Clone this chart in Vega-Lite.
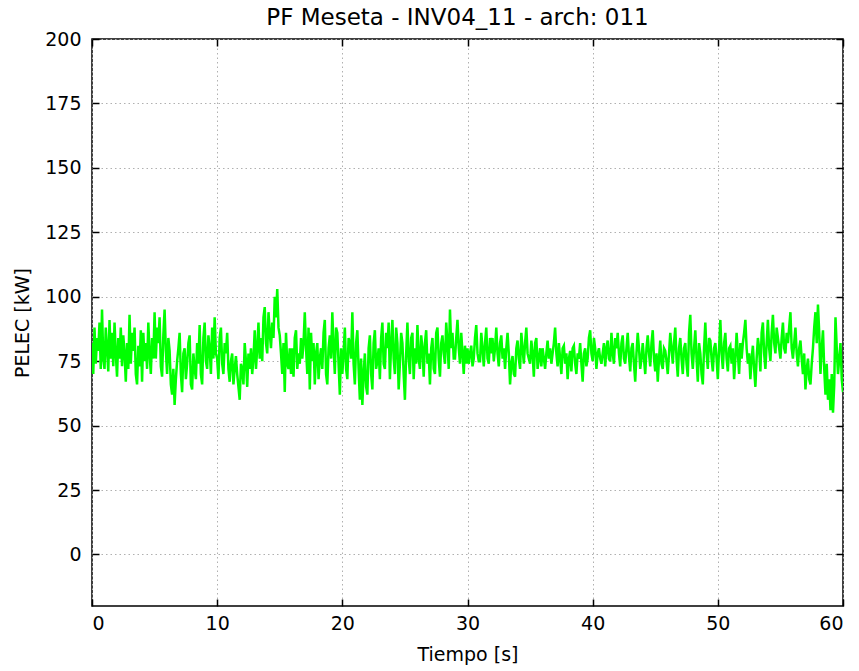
{
 "$schema": "https://vega.github.io/schema/vega-lite/v6.json",
 "width": 751, "height": 567,
 "autosize": {"type": "none"},
 "padding": {"left": 92, "top": 39, "right": 16, "bottom": 65},
 "title": {"text": "PF Meseta - INV04_11 - arch: 011", "font": "DejaVu Sans", "fontSize": 23, "fontWeight": "normal", "color": "#000000", "offset": 0, "dx": -10},
 "config": {
  "view": {"stroke": "#000000", "strokeWidth": 1.5},
  "axis": {"domain": false, "tickColor": "#000000", "tickWidth": 1.5, "tickSize": -7, "labelFont": "DejaVu Sans", "labelFontSize": 19, "labelColor": "#000000", "titleFont": "DejaVu Sans", "titleFontSize": 19, "titleFontWeight": "normal", "titleColor": "#000000", "gridColor": "#b0b0b0", "gridDash": [1.5, 3], "gridWidth": 1}
 },
 "data": {"values": [
{"t":0.0,"p":82},{"t":0.1,"p":70},{"t":0.2,"p":88},{"t":0.3,"p":74},{"t":0.4,"p":84},{"t":0.5,"p":79},{"t":0.6,"p":90},{"t":0.7,"p":72},{"t":0.8,"p":95},{"t":0.9,"p":76},
{"t":1.0,"p":72},{"t":1.1,"p":88},{"t":1.2,"p":80},{"t":1.3,"p":71},{"t":1.4,"p":91},{"t":1.5,"p":76},{"t":1.6,"p":86},{"t":1.7,"p":73},{"t":1.8,"p":90},{"t":1.9,"p":78},
{"t":2.0,"p":69},{"t":2.1,"p":84},{"t":2.2,"p":76},{"t":2.3,"p":88},{"t":2.4,"p":73},{"t":2.5,"p":85},{"t":2.6,"p":78},{"t":2.7,"p":67},{"t":2.8,"p":82},{"t":2.9,"p":72},
{"t":3.0,"p":93},{"t":3.1,"p":74},{"t":3.2,"p":86},{"t":3.3,"p":79},{"t":3.4,"p":88},{"t":3.5,"p":70},{"t":3.6,"p":66},{"t":3.7,"p":81},{"t":3.8,"p":73},{"t":3.9,"p":87},
{"t":4.0,"p":67},{"t":4.1,"p":86},{"t":4.2,"p":75},{"t":4.3,"p":82},{"t":4.4,"p":72},{"t":4.5,"p":90},{"t":4.6,"p":78},{"t":4.7,"p":70},{"t":4.8,"p":84},{"t":4.9,"p":76},
{"t":5.0,"p":94},{"t":5.1,"p":76},{"t":5.2,"p":88},{"t":5.3,"p":82},{"t":5.4,"p":92},{"t":5.5,"p":73},{"t":5.6,"p":69},{"t":5.7,"p":85},{"t":5.8,"p":95},{"t":5.9,"p":79},
{"t":6.0,"p":70},{"t":6.1,"p":84},{"t":6.2,"p":79},{"t":6.3,"p":66},{"t":6.4,"p":62},{"t":6.5,"p":72},{"t":6.6,"p":58},{"t":6.7,"p":68},{"t":6.8,"p":75},{"t":6.9,"p":80},
{"t":7.0,"p":86},{"t":7.1,"p":70},{"t":7.2,"p":63},{"t":7.3,"p":78},{"t":7.4,"p":80},{"t":7.5,"p":68},{"t":7.6,"p":74},{"t":7.7,"p":82},{"t":7.8,"p":85},{"t":7.9,"p":66},
{"t":8.0,"p":64},{"t":8.1,"p":78},{"t":8.2,"p":72},{"t":8.3,"p":68},{"t":8.4,"p":82},{"t":8.5,"p":74},{"t":8.6,"p":89},{"t":8.7,"p":70},{"t":8.8,"p":66},{"t":8.9,"p":84},
{"t":9.0,"p":90},{"t":9.1,"p":75},{"t":9.2,"p":72},{"t":9.3,"p":85},{"t":9.4,"p":80},{"t":9.5,"p":70},{"t":9.6,"p":88},{"t":9.7,"p":76},{"t":9.8,"p":92},{"t":9.9,"p":78},
{"t":10.0,"p":76},{"t":10.1,"p":68},{"t":10.2,"p":84},{"t":10.3,"p":88},{"t":10.4,"p":74},{"t":10.5,"p":70},{"t":10.6,"p":82},{"t":10.7,"p":78},{"t":10.8,"p":86},{"t":10.9,"p":72},
{"t":11.0,"p":67},{"t":11.1,"p":75},{"t":11.2,"p":78},{"t":11.3,"p":66},{"t":11.4,"p":72},{"t":11.5,"p":77},{"t":11.6,"p":70},{"t":11.7,"p":65},{"t":11.8,"p":60},{"t":11.9,"p":74},
{"t":12.0,"p":72},{"t":12.1,"p":66},{"t":12.2,"p":82},{"t":12.3,"p":75},{"t":12.4,"p":65},{"t":12.5,"p":78},{"t":12.6,"p":72},{"t":12.7,"p":80},{"t":12.8,"p":70},{"t":12.9,"p":76},
{"t":13.0,"p":87},{"t":13.1,"p":72},{"t":13.2,"p":80},{"t":13.3,"p":90},{"t":13.4,"p":76},{"t":13.5,"p":84},{"t":13.6,"p":75},{"t":13.7,"p":92},{"t":13.8,"p":96},{"t":13.9,"p":82},
{"t":14.0,"p":78},{"t":14.1,"p":94},{"t":14.2,"p":86},{"t":14.3,"p":80},{"t":14.4,"p":90},{"t":14.5,"p":84},{"t":14.6,"p":100},{"t":14.7,"p":92},{"t":14.8,"p":103},{"t":14.9,"p":88},
{"t":15.0,"p":85},{"t":15.1,"p":78},{"t":15.2,"p":70},{"t":15.3,"p":82},{"t":15.4,"p":63},{"t":15.5,"p":86},{"t":15.6,"p":74},{"t":15.7,"p":72},{"t":15.8,"p":80},{"t":15.9,"p":70},
{"t":16.0,"p":80},{"t":16.1,"p":69},{"t":16.2,"p":84},{"t":16.3,"p":87},{"t":16.4,"p":72},{"t":16.5,"p":78},{"t":16.6,"p":74},{"t":16.7,"p":84},{"t":16.8,"p":76},{"t":16.9,"p":82},
{"t":17.0,"p":94},{"t":17.1,"p":80},{"t":17.2,"p":70},{"t":17.3,"p":88},{"t":17.4,"p":64},{"t":17.5,"p":86},{"t":17.6,"p":75},{"t":17.7,"p":82},{"t":17.8,"p":66},{"t":17.9,"p":78},
{"t":18.0,"p":82},{"t":18.1,"p":68},{"t":18.2,"p":76},{"t":18.3,"p":80},{"t":18.4,"p":72},{"t":18.5,"p":86},{"t":18.6,"p":91},{"t":18.7,"p":70},{"t":18.8,"p":66},{"t":18.9,"p":80},
{"t":19.0,"p":85},{"t":19.1,"p":76},{"t":19.2,"p":94},{"t":19.3,"p":80},{"t":19.4,"p":70},{"t":19.5,"p":88},{"t":19.6,"p":86},{"t":19.7,"p":74},{"t":19.8,"p":62},{"t":19.9,"p":80},
{"t":20.0,"p":70},{"t":20.1,"p":78},{"t":20.2,"p":88},{"t":20.3,"p":72},{"t":20.4,"p":68},{"t":20.5,"p":84},{"t":20.6,"p":82},{"t":20.7,"p":76},{"t":20.8,"p":94},{"t":20.9,"p":74},
{"t":21.0,"p":66},{"t":21.1,"p":82},{"t":21.2,"p":87},{"t":21.3,"p":72},{"t":21.4,"p":60},{"t":21.5,"p":76},{"t":21.6,"p":58},{"t":21.7,"p":70},{"t":21.8,"p":78},{"t":21.9,"p":65},
{"t":22.0,"p":62},{"t":22.1,"p":80},{"t":22.2,"p":85},{"t":22.3,"p":70},{"t":22.4,"p":64},{"t":22.5,"p":82},{"t":22.6,"p":87},{"t":22.7,"p":72},{"t":22.8,"p":75},{"t":22.9,"p":80},
{"t":23.0,"p":68},{"t":23.1,"p":84},{"t":23.2,"p":90},{"t":23.3,"p":74},{"t":23.4,"p":72},{"t":23.5,"p":86},{"t":23.6,"p":80},{"t":23.7,"p":90},{"t":23.8,"p":68},{"t":23.9,"p":82},
{"t":24.0,"p":91},{"t":24.1,"p":76},{"t":24.2,"p":70},{"t":24.3,"p":88},{"t":24.4,"p":82},{"t":24.5,"p":64},{"t":24.6,"p":74},{"t":24.7,"p":86},{"t":24.8,"p":82},{"t":24.9,"p":70},
{"t":25.0,"p":60},{"t":25.1,"p":78},{"t":25.2,"p":90},{"t":25.3,"p":76},{"t":25.4,"p":70},{"t":25.5,"p":84},{"t":25.6,"p":86},{"t":25.7,"p":68},{"t":25.8,"p":80},{"t":25.9,"p":74},
{"t":26.0,"p":89},{"t":26.1,"p":76},{"t":26.2,"p":72},{"t":26.3,"p":85},{"t":26.4,"p":80},{"t":26.5,"p":69},{"t":26.6,"p":82},{"t":26.7,"p":87},{"t":26.8,"p":74},{"t":26.9,"p":78},
{"t":27.0,"p":66},{"t":27.1,"p":80},{"t":27.2,"p":84},{"t":27.3,"p":72},{"t":27.4,"p":70},{"t":27.5,"p":86},{"t":27.6,"p":88},{"t":27.7,"p":76},{"t":27.8,"p":69},{"t":27.9,"p":82},
{"t":28.0,"p":85},{"t":28.1,"p":78},{"t":28.2,"p":74},{"t":28.3,"p":90},{"t":28.4,"p":82},{"t":28.5,"p":72},{"t":28.6,"p":95},{"t":28.7,"p":80},{"t":28.8,"p":86},{"t":28.9,"p":76},
{"t":29.0,"p":76},{"t":29.1,"p":84},{"t":29.2,"p":91},{"t":29.3,"p":80},{"t":29.4,"p":74},{"t":29.5,"p":86},{"t":29.6,"p":78},{"t":29.7,"p":70},{"t":29.8,"p":81},{"t":29.9,"p":74},
{"t":30.0,"p":80},{"t":30.1,"p":74},{"t":30.2,"p":78},{"t":30.3,"p":81},{"t":30.4,"p":73},{"t":30.5,"p":76},{"t":30.6,"p":84},{"t":30.7,"p":89},{"t":30.8,"p":78},{"t":30.9,"p":75},
{"t":31.0,"p":75},{"t":31.1,"p":86},{"t":31.2,"p":80},{"t":31.3,"p":73},{"t":31.4,"p":82},{"t":31.5,"p":88},{"t":31.6,"p":76},{"t":31.7,"p":74},{"t":31.8,"p":84},{"t":31.9,"p":78},
{"t":32.0,"p":84},{"t":32.1,"p":75},{"t":32.2,"p":80},{"t":32.3,"p":88},{"t":32.4,"p":78},{"t":32.5,"p":73},{"t":32.6,"p":82},{"t":32.7,"p":85},{"t":32.8,"p":76},{"t":32.9,"p":80},
{"t":33.0,"p":72},{"t":33.1,"p":80},{"t":33.2,"p":86},{"t":33.3,"p":78},{"t":33.4,"p":66},{"t":33.5,"p":74},{"t":33.6,"p":77},{"t":33.7,"p":70},{"t":33.8,"p":69},{"t":33.9,"p":80},
{"t":34.0,"p":83},{"t":34.1,"p":76},{"t":34.2,"p":72},{"t":34.3,"p":86},{"t":34.4,"p":80},{"t":34.5,"p":74},{"t":34.6,"p":82},{"t":34.7,"p":88},{"t":34.8,"p":78},{"t":34.9,"p":76},
{"t":35.0,"p":74},{"t":35.1,"p":83},{"t":35.2,"p":78},{"t":35.3,"p":69},{"t":35.4,"p":82},{"t":35.5,"p":84},{"t":35.6,"p":72},{"t":35.7,"p":76},{"t":35.8,"p":80},{"t":35.9,"p":73},
{"t":36.0,"p":80},{"t":36.1,"p":76},{"t":36.2,"p":72},{"t":36.3,"p":78},{"t":36.4,"p":83},{"t":36.5,"p":76},{"t":36.6,"p":80},{"t":36.7,"p":74},{"t":36.8,"p":78},{"t":36.9,"p":82},
{"t":37.0,"p":88},{"t":37.1,"p":78},{"t":37.2,"p":73},{"t":37.3,"p":82},{"t":37.4,"p":76},{"t":37.5,"p":70},{"t":37.6,"p":80},{"t":37.7,"p":81},{"t":37.8,"p":74},{"t":37.9,"p":78},
{"t":38.0,"p":68},{"t":38.1,"p":76},{"t":38.2,"p":79},{"t":38.3,"p":71},{"t":38.4,"p":80},{"t":38.5,"p":81},{"t":38.6,"p":74},{"t":38.7,"p":70},{"t":38.8,"p":78},{"t":38.9,"p":76},
{"t":39.0,"p":82},{"t":39.1,"p":74},{"t":39.2,"p":67},{"t":39.3,"p":78},{"t":39.4,"p":80},{"t":39.5,"p":73},{"t":39.6,"p":76},{"t":39.7,"p":84},{"t":39.8,"p":87},{"t":39.9,"p":78},
{"t":40.0,"p":75},{"t":40.1,"p":84},{"t":40.2,"p":80},{"t":40.3,"p":72},{"t":40.4,"p":78},{"t":40.5,"p":80},{"t":40.6,"p":76},{"t":40.7,"p":74},{"t":40.8,"p":78},{"t":40.9,"p":82},
{"t":41.0,"p":73},{"t":41.1,"p":80},{"t":41.2,"p":83},{"t":41.3,"p":76},{"t":41.4,"p":75},{"t":41.5,"p":86},{"t":41.6,"p":78},{"t":41.7,"p":74},{"t":41.8,"p":84},{"t":41.9,"p":80},
{"t":42.0,"p":86},{"t":42.1,"p":78},{"t":42.2,"p":73},{"t":42.3,"p":82},{"t":42.4,"p":85},{"t":42.5,"p":76},{"t":42.6,"p":74},{"t":42.7,"p":80},{"t":42.8,"p":86},{"t":42.9,"p":77},
{"t":43.0,"p":71},{"t":43.1,"p":80},{"t":43.2,"p":82},{"t":43.3,"p":74},{"t":43.4,"p":67},{"t":43.5,"p":78},{"t":43.6,"p":86},{"t":43.7,"p":80},{"t":43.8,"p":72},{"t":43.9,"p":76},
{"t":44.0,"p":82},{"t":44.1,"p":76},{"t":44.2,"p":70},{"t":44.3,"p":80},{"t":44.4,"p":85},{"t":44.5,"p":78},{"t":44.6,"p":73},{"t":44.7,"p":82},{"t":44.8,"p":87},{"t":44.9,"p":76},
{"t":45.0,"p":71},{"t":45.1,"p":78},{"t":45.2,"p":67},{"t":45.3,"p":76},{"t":45.4,"p":83},{"t":45.5,"p":74},{"t":45.6,"p":72},{"t":45.7,"p":80},{"t":45.8,"p":79},{"t":45.9,"p":75},
{"t":46.0,"p":70},{"t":46.1,"p":78},{"t":46.2,"p":86},{"t":46.3,"p":80},{"t":46.4,"p":74},{"t":46.5,"p":82},{"t":46.6,"p":88},{"t":46.7,"p":76},{"t":46.8,"p":69},{"t":46.9,"p":80},
{"t":47.0,"p":84},{"t":47.1,"p":76},{"t":47.2,"p":70},{"t":47.3,"p":80},{"t":47.4,"p":82},{"t":47.5,"p":74},{"t":47.6,"p":69},{"t":47.7,"p":86},{"t":47.8,"p":93},{"t":47.9,"p":78},
{"t":48.0,"p":72},{"t":48.1,"p":80},{"t":48.2,"p":87},{"t":48.3,"p":76},{"t":48.4,"p":67},{"t":48.5,"p":82},{"t":48.6,"p":78},{"t":48.7,"p":70},{"t":48.8,"p":66},{"t":48.9,"p":80},
{"t":49.0,"p":90},{"t":49.1,"p":78},{"t":49.2,"p":72},{"t":49.3,"p":84},{"t":49.4,"p":83},{"t":49.5,"p":76},{"t":49.6,"p":71},{"t":49.7,"p":80},{"t":49.8,"p":82},{"t":49.9,"p":76},
{"t":50.0,"p":68},{"t":50.1,"p":80},{"t":50.2,"p":91},{"t":50.3,"p":78},{"t":50.4,"p":72},{"t":50.5,"p":82},{"t":50.6,"p":86},{"t":50.7,"p":76},{"t":50.8,"p":71},{"t":50.9,"p":80},
{"t":51.0,"p":81},{"t":51.1,"p":74},{"t":51.2,"p":80},{"t":51.3,"p":68},{"t":51.4,"p":76},{"t":51.5,"p":86},{"t":51.6,"p":78},{"t":51.7,"p":70},{"t":51.8,"p":82},{"t":51.9,"p":76},
{"t":52.0,"p":82},{"t":52.1,"p":86},{"t":52.2,"p":91},{"t":52.3,"p":80},{"t":52.4,"p":74},{"t":52.5,"p":78},{"t":52.6,"p":68},{"t":52.7,"p":76},{"t":52.8,"p":81},{"t":52.9,"p":72},
{"t":53.0,"p":65},{"t":53.1,"p":76},{"t":53.2,"p":84},{"t":53.3,"p":80},{"t":53.4,"p":71},{"t":53.5,"p":86},{"t":53.6,"p":90},{"t":53.7,"p":78},{"t":53.8,"p":72},{"t":53.9,"p":82},
{"t":54.0,"p":91},{"t":54.1,"p":80},{"t":54.2,"p":75},{"t":54.3,"p":86},{"t":54.4,"p":93},{"t":54.5,"p":82},{"t":54.6,"p":78},{"t":54.7,"p":88},{"t":54.8,"p":84},{"t":54.9,"p":80},
{"t":55.0,"p":76},{"t":55.1,"p":84},{"t":55.2,"p":90},{"t":55.3,"p":80},{"t":55.4,"p":78},{"t":55.5,"p":86},{"t":55.6,"p":82},{"t":55.7,"p":88},{"t":55.8,"p":94},{"t":55.9,"p":80},
{"t":56.0,"p":76},{"t":56.1,"p":82},{"t":56.2,"p":88},{"t":56.3,"p":78},{"t":56.4,"p":73},{"t":56.5,"p":80},{"t":56.6,"p":83},{"t":56.7,"p":76},{"t":56.8,"p":70},{"t":56.9,"p":78},
{"t":57.0,"p":64},{"t":57.1,"p":72},{"t":57.2,"p":76},{"t":57.3,"p":68},{"t":57.4,"p":66},{"t":57.5,"p":74},{"t":57.6,"p":80},{"t":57.7,"p":88},{"t":57.8,"p":94},{"t":57.9,"p":82},
{"t":58.0,"p":97},{"t":58.1,"p":86},{"t":58.2,"p":70},{"t":58.3,"p":80},{"t":58.4,"p":87},{"t":58.5,"p":72},{"t":58.6,"p":62},{"t":58.7,"p":74},{"t":58.8,"p":60},{"t":58.9,"p":68},
{"t":59.0,"p":56},{"t":59.1,"p":70},{"t":59.2,"p":55},{"t":59.3,"p":66},{"t":59.4,"p":92},{"t":59.5,"p":80},{"t":59.6,"p":70},{"t":59.7,"p":76},{"t":59.8,"p":82},{"t":59.9,"p":68},
{"t":60.0,"p":63}
 ]},
 "layer": [
  {"mark": {"type": "line", "color": "#00ff00", "strokeWidth": 2.5, "clip": true},
   "encoding": {
    "x": {"field": "t", "type": "quantitative", "scale": {"domain": [0, 60], "nice": false, "zero": false},
          "axis": {"orient": "bottom", "title": "Tiempo [s]", "values": [0,10,20,30,40,50,60], "labelPadding": 15, "titlePadding": 12, "grid": true}},
    "y": {"field": "p", "type": "quantitative", "scale": {"domain": [-20, 200], "nice": false, "zero": false},
          "axis": {"orient": "left", "title": "PELEC [kW]", "values": [0,25,50,75,100,125,150,175,200], "labelPadding": 18, "titlePadding": 12, "grid": true}}
   }},
  {"mark": {"type": "line", "opacity": 0},
   "encoding": {
    "x": {"field": "t", "type": "quantitative", "axis": {"orient": "top", "title": null, "labels": false, "grid": false, "values": [0,10,20,30,40,50,60]}},
    "y": {"field": "p", "type": "quantitative", "axis": {"orient": "right", "title": null, "labels": false, "grid": false, "values": [0,25,50,75,100,125,150,175,200]}}
   }}
 ],
 "resolve": {"axis": {"x": "independent", "y": "independent"}}
}
